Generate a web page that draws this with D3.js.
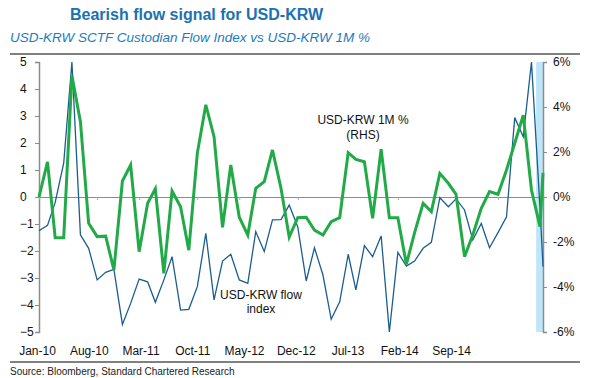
<!DOCTYPE html>
<html>
<head>
<meta charset="utf-8">
<script src="https://cdn.jsdelivr.net/npm/d3@7"></script>
<style>
  body { margin: 0; background: #fff; }
  svg text { font-family: "Liberation Sans Narrow", "Liberation Sans", Arial, sans-serif; }
</style>
</head>
<body>
<svg id="chart" width="589" height="378"></svg>
<script>
// ------------------------------
// Data
// ------------------------------

// monthly points Jan-10 .. Jan-15, plus one partial-month reading at the end
const startMonth = new Date(2010, 0, 1);
const monthCount = 61;
const lastPartial = new Date(2015, 0, 12);

// USD-KRW SCTF custodian flow index (LHS)
const flowIndex = [
  -1.25, -1.05, -0.2, 1.25, 5.0, -1.4, -1.9, -3.07, -2.79, -2.68,
  -4.72, -3.94, -3.04, -3.14, -3.9, -3.07, -2.21, -4.19, -4.16, -3.32,
  -1.35, -3.81, -2.37, -2.12, -3.07, -3.2, -1.28, -2.02, -0.85, -0.84,
  -0.3, -1.1, -3.11, -1.88, -2.89, -4.53, -3.88, -2.12, -3.44, -1.8,
  -2.21, -1.44, -5.0, -2.05, -2.56, -2.37, -1.9, -1.68, -0.02, -0.36,
  -0.07, -0.48, -1.59, -0.98, -1.88, -1.32, -0.73, 2.94, 2.23, 5.0,
  -0.4, -2.58
];

// USD-KRW 1M % change (RHS)
const usdKrw1m = [
  0.0, 1.56, -1.81, -1.81, 5.39, 3.35, -1.17, -1.76, -1.74, -3.24,
  0.71, 1.42, -2.43, -0.28, 0.36, -3.39, 0.27, -0.43, -2.36, 1.94,
  4.1, 2.68, -1.35, 1.42, -0.9, -1.69, 0.39, 0.68, 2.09, 0.39,
  -1.78, -0.92, -0.9, -1.47, -1.69, -1.1, -0.92, 1.97, 1.67, 1.57,
  -0.95, 2.13, -0.92, -0.92, -2.99, -1.58, -0.28, -0.65, 1.05, 0.61,
  0.12, -2.65, -1.69, -0.5, 0.24, 0.12, 1.2, 2.39, 3.64, 0.31,
  -1.32, 1.07
];

const xLabels = ["Jan-10", "Aug-10", "Mar-11", "Oct-11", "May-12", "Dec-12", "Jul-13", "Feb-14", "Sep-14"];
const leftTicks = [-5, -4, -3, -2, -1, 0, 1, 2, 3, 4, 5];
const rightTicks = [-6, -4, -2, 0, 2, 4, 6];

// ------------------------------
// Layout
// ------------------------------

const svg = d3.select("#chart");
const plot = { left: 39, right: 543, top: 62, bottom: 332 };
const blue = "#1b5e8e";
const green = "#22aa48";
const axisGrey = "#8c8c8c";

const dates = d3.timeMonth.range(startMonth, d3.timeMonth.offset(startMonth, monthCount)).concat([lastPartial]);
const flowData = dates.map((d, i) => ({ date: d, value: flowIndex[i] }));
const fxData = dates.map((d, i) => ({ date: d, value: usdKrw1m[i] }));

const x = d3.scaleTime().domain([startMonth, lastPartial]).range([plot.left, plot.right]);
const yLeft = d3.scaleLinear().domain([-5, 5]).range([plot.bottom, plot.top]);
const yRight = d3.scaleLinear().domain([-6, 6]).range([plot.bottom, plot.top]);

// the labels in the source sit slightly left of their ticks, so they get their own scale
const xLabel = d3.scalePoint().domain(xLabels).range([37, 451]);

// ------------------------------
// Titles and rules
// ------------------------------

svg.append("text")
  .attr("x", 70).attr("y", 20)
  .attr("font-size", 16).attr("font-weight", "bold")
  .attr("fill", "#1a72b0")
  .text("Bearish flow signal for USD-KRW");

svg.append("text")
  .attr("x", 10).attr("y", 42)
  .attr("font-size", 13.5).attr("font-style", "italic")
  .attr("fill", "#1a7cc0")
  .text("USD-KRW SCTF Custodian Flow Index vs USD-KRW 1M %");

svg.append("line")
  .attr("x1", 10).attr("x2", 580).attr("y1", 54).attr("y2", 54)
  .attr("stroke", "#808080").attr("stroke-width", 2);

svg.append("line")
  .attr("x1", 10).attr("x2", 580).attr("y1", 362).attr("y2", 362)
  .attr("stroke", "#808080").attr("stroke-width", 2);

svg.append("text")
  .attr("x", 10).attr("y", 375)
  .attr("font-size", 10).attr("fill", "#222")
  .text("Source: Bloomberg, Standard Chartered Research");

// ------------------------------
// Highlight band on the latest month
// ------------------------------

svg.append("rect")
  .attr("x", x(new Date(2014, 11, 18)))
  .attr("y", plot.top)
  .attr("width", plot.right - x(new Date(2014, 11, 18)))
  .attr("height", plot.bottom - plot.top)
  .attr("fill", "#bfe6f8");

// ------------------------------
// Axes
// ------------------------------

// left axis
const leftAxis = svg.append("g")
  .attr("transform", `translate(${plot.left},0)`)
  .call(d3.axisLeft(yLeft).tickValues(leftTicks).tickSize(4).tickFormat(d3.format("d")));
leftAxis.select(".domain").attr("stroke", axisGrey).attr("stroke-width", 1.5);
leftAxis.selectAll(".tick line").attr("stroke", axisGrey);
leftAxis.selectAll(".tick text")
  .attr("x", 20 - plot.left).attr("text-anchor", "start")
  .attr("font-size", 12).attr("fill", "#111");

// right axis
const rightAxis = svg.append("g")
  .attr("transform", `translate(${plot.right},0)`)
  .call(d3.axisRight(yRight).tickValues(rightTicks).tickSize(4).tickFormat((d) => d + "%"));
rightAxis.select(".domain").attr("stroke", axisGrey).attr("stroke-width", 1.5);
rightAxis.selectAll(".tick line").attr("stroke", axisGrey);
rightAxis.selectAll(".tick text")
  .attr("x", 10).attr("text-anchor", "start")
  .attr("font-size", 12).attr("fill", "#111");

// zero line with month ticks every 7 months
const zeroAxis = svg.append("g")
  .attr("transform", `translate(0,${yLeft(0)})`)
  .call(d3.axisBottom(x).ticks(d3.timeMonth.every(7)).tickSize(3).tickFormat(""));
zeroAxis.select(".domain").attr("stroke", axisGrey).attr("stroke-width", 1.2);
zeroAxis.selectAll(".tick line").attr("stroke", "#aaa");

// bottom labels
const labelAxis = svg.append("g")
  .attr("transform", `translate(0,${plot.bottom})`)
  .call(d3.axisBottom(xLabel).tickSize(0).tickPadding(14));
labelAxis.select(".domain").remove();
labelAxis.selectAll(".tick text").attr("font-size", 12).attr("fill", "#111");

// ------------------------------
// Lines
// ------------------------------

svg.append("path")
  .datum(flowData)
  .attr("fill", "none")
  .attr("stroke", blue)
  .attr("stroke-width", 1.3)
  .attr("d", d3.line().x((d) => x(d.date)).y((d) => yLeft(d.value)));

svg.append("path")
  .datum(fxData)
  .attr("fill", "none")
  .attr("stroke", green)
  .attr("stroke-width", 3)
  .attr("stroke-linejoin", "miter")
  .attr("d", d3.line().x((d) => x(d.date)).y((d) => yRight(d.value)));

// ------------------------------
// Annotations
// ------------------------------

const note = svg.append("g").attr("font-size", 12).attr("fill", "#111").attr("text-anchor", "middle");
note.append("text").attr("x", 363).attr("y", 124).text("USD-KRW 1M %");
note.append("text").attr("x", 363).attr("y", 139).text("(RHS)");
note.append("text").attr("x", 261).attr("y", 299).text("USD-KRW flow");
note.append("text").attr("x", 261).attr("y", 313).text("index");
</script>
</body>
</html>
